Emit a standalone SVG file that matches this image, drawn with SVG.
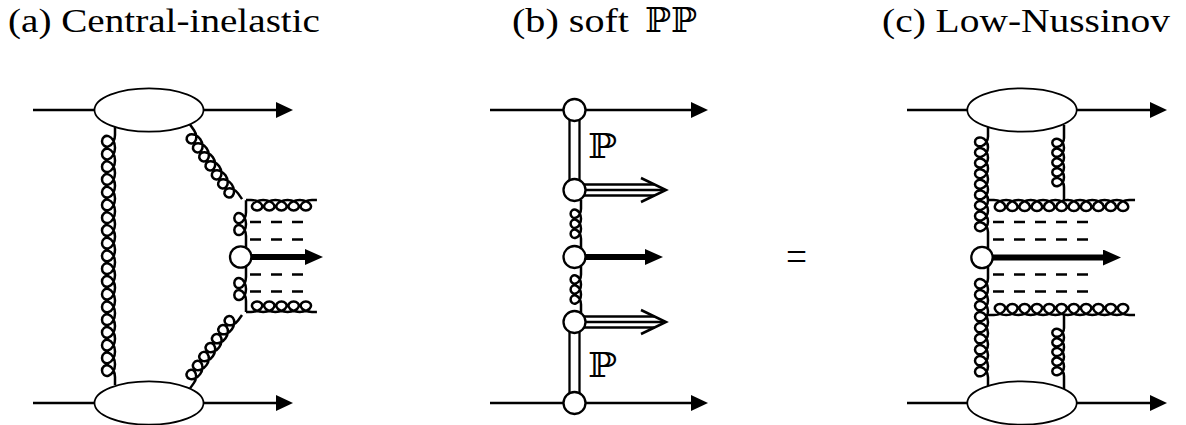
<svg xmlns="http://www.w3.org/2000/svg" width="1186" height="425" viewBox="0 0 1186 425">
<style>
.ln{stroke:#000;stroke-width:2.5;fill:none}
.gl{stroke:#000;stroke-width:2.5;fill:none;vector-effect:non-scaling-stroke}
.th{stroke:#000;stroke-width:6;fill:none}
.ds{stroke:#000;stroke-width:2.5;stroke-dasharray:11 10;fill:none}
.el{fill:#fff;stroke:#000;stroke-width:1.7}
.ci{fill:#fff;stroke:#000;stroke-width:2.3}
.pm{fill:#fff;stroke:#000;stroke-width:2.3}
.tt{font-family:"Liberation Serif","Times New Roman",serif;font-size:34px;fill:#000}
.bb{font-family:"DejaVu Serif","DejaVu Sans",serif}
</style>
<defs>
<marker id="ah" viewBox="0 0 17 16" refX="1" refY="8" markerWidth="17" markerHeight="16" markerUnits="userSpaceOnUse" orient="auto"><path d="M0,0 L17,8 L0,16 Z" fill="#000"/></marker>
<marker id="ahT" viewBox="0 0 18 16" refX="1" refY="8" markerWidth="18" markerHeight="16" markerUnits="userSpaceOnUse" orient="auto"><path d="M0,0 L18,8 L0,16 Z" fill="#000"/></marker>
</defs>
<rect width="1186" height="425" fill="#fff"/>

<g id="titles">
<text id="title-a" class="tt" x="8" y="32" textLength="312" lengthAdjust="spacingAndGlyphs">(a) Central-inelastic</text>
<text id="title-b" class="tt" y="32"><tspan x="512" textLength="117" lengthAdjust="spacingAndGlyphs">(b) soft</tspan><tspan class="bb" x="645" textLength="52" lengthAdjust="spacingAndGlyphs">ℙℙ</tspan></text>
<text id="title-c" class="tt" x="882" y="32" textLength="288" lengthAdjust="spacingAndGlyphs">(c) Low-Nussinov</text>
</g>

<g id="connectors">
<!-- panel a -->
<line class="ln" x1="33" y1="110" x2="277" y2="110" marker-end="url(#ah)"/>
<line class="ln" x1="33" y1="403" x2="277" y2="403" marker-end="url(#ah)"/>
<path class="gl" transform="translate(115,385) rotate(-90) scale(1.014,1)" d="M0,0 h7.9 c5.576,0 10.295,-2.91 11.342,-6.5 c1.047,-3.59 -1.577,-6.5 -5.059,-6.5 c-3.482,0 -6.105,2.91 -5.058,6.5 c1.047,3.59 5.765,6.5 11.341,6.5 c5.576,0 10.295,-2.91 11.342,-6.5 c1.047,-3.59 -1.577,-6.5 -5.059,-6.5 c-3.482,0 -6.105,2.91 -5.058,6.5 c1.047,3.59 5.765,6.5 11.341,6.5 c5.576,0 10.295,-2.91 11.342,-6.5 c1.047,-3.59 -1.577,-6.5 -5.059,-6.5 c-3.482,0 -6.105,2.91 -5.058,6.5 c1.047,3.59 5.765,6.5 11.341,6.5 c5.576,0 10.295,-2.91 11.342,-6.5 c1.047,-3.59 -1.577,-6.5 -5.059,-6.5 c-3.482,0 -6.105,2.91 -5.058,6.5 c1.047,3.59 5.765,6.5 11.341,6.5 c5.576,0 10.295,-2.91 11.342,-6.5 c1.047,-3.59 -1.577,-6.5 -5.059,-6.5 c-3.482,0 -6.105,2.91 -5.058,6.5 c1.047,3.59 5.765,6.5 11.341,6.5 c5.576,0 10.295,-2.91 11.342,-6.5 c1.047,-3.59 -1.577,-6.5 -5.059,-6.5 c-3.482,0 -6.105,2.91 -5.058,6.5 c1.047,3.59 5.765,6.5 11.341,6.5 c5.576,0 10.295,-2.91 11.342,-6.5 c1.047,-3.59 -1.577,-6.5 -5.059,-6.5 c-3.482,0 -6.105,2.91 -5.058,6.5 c1.047,3.59 5.765,6.5 11.341,6.5 c5.576,0 10.295,-2.91 11.342,-6.5 c1.047,-3.59 -1.577,-6.5 -5.059,-6.5 c-3.482,0 -6.105,2.91 -5.058,6.5 c1.047,3.59 5.765,6.5 11.341,6.5 c5.576,0 10.295,-2.91 11.342,-6.5 c1.047,-3.59 -1.577,-6.5 -5.059,-6.5 c-3.482,0 -6.105,2.91 -5.058,6.5 c1.047,3.59 5.765,6.5 11.341,6.5 c5.576,0 10.295,-2.91 11.342,-6.5 c1.047,-3.59 -1.577,-6.5 -5.059,-6.5 c-3.482,0 -6.105,2.91 -5.058,6.5 c1.047,3.59 5.765,6.5 11.341,6.5 c5.576,0 10.295,-2.91 11.342,-6.5 c1.047,-3.59 -1.577,-6.5 -5.059,-6.5 c-3.482,0 -6.105,2.91 -5.058,6.5 c1.047,3.59 5.765,6.5 11.341,6.5 c5.576,0 10.295,-2.91 11.342,-6.5 c1.047,-3.59 -1.577,-6.5 -5.059,-6.5 c-3.482,0 -6.105,2.91 -5.058,6.5 c1.047,3.59 5.765,6.5 11.341,6.5 c5.576,0 10.295,-2.91 11.342,-6.5 c1.047,-3.59 -1.577,-6.5 -5.059,-6.5 c-3.482,0 -6.105,2.91 -5.058,6.5 c1.047,3.59 5.765,6.5 11.341,6.5 c5.576,0 10.295,-2.91 11.342,-6.5 c1.047,-3.59 -1.577,-6.5 -5.059,-6.5 c-3.482,0 -6.105,2.91 -5.058,6.5 c1.047,3.59 5.765,6.5 11.341,6.5 c5.576,0 10.295,-2.91 11.342,-6.5 c1.047,-3.59 -1.577,-6.5 -5.059,-6.5 c-3.482,0 -6.105,2.91 -5.058,6.5 c1.047,3.59 5.765,6.5 11.341,6.5 c5.576,0 10.295,-2.91 11.342,-6.5 c1.047,-3.59 -1.577,-6.5 -5.059,-6.5 c-3.482,0 -6.105,2.91 -5.058,6.5 c1.047,3.59 5.765,6.5 11.341,6.5 c5.576,0 10.295,-2.91 11.342,-6.5 c1.047,-3.59 -1.577,-6.5 -5.059,-6.5 c-3.482,0 -6.105,2.91 -5.058,6.5 c1.047,3.59 5.765,6.5 11.341,6.5 c5.576,0 10.295,-2.91 11.342,-6.5 c1.047,-3.59 -1.577,-6.5 -5.059,-6.5 c-3.482,0 -6.105,2.91 -5.058,6.5 c1.047,3.59 5.765,6.5 11.341,6.5 c5.576,0 10.295,-2.91 11.342,-6.5 c1.047,-3.59 -1.577,-6.5 -5.059,-6.5 c-3.482,0 -6.105,2.91 -5.058,6.5 c1.047,3.59 5.765,6.5 11.341,6.5 h7.9"/>
<path class="gl" transform="translate(190,124.5) rotate(55.1) scale(0.875,-0.9)" d="M0,0 h8 c5.576,0 10.295,-2.91 11.342,-6.5 c1.047,-3.59 -1.577,-6.5 -5.059,-6.5 c-3.482,0 -6.105,2.91 -5.058,6.5 c1.047,3.59 5.765,6.5 11.341,6.5 c5.576,0 10.295,-2.91 11.342,-6.5 c1.047,-3.59 -1.577,-6.5 -5.059,-6.5 c-3.482,0 -6.105,2.91 -5.058,6.5 c1.047,3.59 5.765,6.5 11.341,6.5 c5.576,0 10.295,-2.91 11.342,-6.5 c1.047,-3.59 -1.577,-6.5 -5.059,-6.5 c-3.482,0 -6.105,2.91 -5.058,6.5 c1.047,3.59 5.765,6.5 11.341,6.5 c5.576,0 10.295,-2.91 11.342,-6.5 c1.047,-3.59 -1.577,-6.5 -5.059,-6.5 c-3.482,0 -6.105,2.91 -5.058,6.5 c1.047,3.59 5.765,6.5 11.341,6.5 c5.576,0 10.295,-2.91 11.342,-6.5 c1.047,-3.59 -1.577,-6.5 -5.059,-6.5 c-3.482,0 -6.105,2.91 -5.058,6.5 c1.047,3.59 5.765,6.5 11.341,6.5 c5.576,0 10.295,-2.91 11.342,-6.5 c1.047,-3.59 -1.577,-6.5 -5.059,-6.5 c-3.482,0 -6.105,2.91 -5.058,6.5 c1.047,3.59 5.765,6.5 11.341,6.5 c5.576,0 10.295,-2.91 11.342,-6.5 c1.047,-3.59 -1.577,-6.5 -5.059,-6.5 c-3.482,0 -6.105,2.91 -5.058,6.5 c1.047,3.59 5.765,6.5 11.341,6.5 h8"/>
<path class="gl" transform="translate(242,315) rotate(125.3) scale(0.875,-0.9)" d="M0,0 h7.4 c5.576,0 10.295,-2.91 11.342,-6.5 c1.047,-3.59 -1.577,-6.5 -5.059,-6.5 c-3.482,0 -6.105,2.91 -5.058,6.5 c1.047,3.59 5.765,6.5 11.341,6.5 c5.576,0 10.295,-2.91 11.342,-6.5 c1.047,-3.59 -1.577,-6.5 -5.059,-6.5 c-3.482,0 -6.105,2.91 -5.058,6.5 c1.047,3.59 5.765,6.5 11.341,6.5 c5.576,0 10.295,-2.91 11.342,-6.5 c1.047,-3.59 -1.577,-6.5 -5.059,-6.5 c-3.482,0 -6.105,2.91 -5.058,6.5 c1.047,3.59 5.765,6.5 11.341,6.5 c5.576,0 10.295,-2.91 11.342,-6.5 c1.047,-3.59 -1.577,-6.5 -5.059,-6.5 c-3.482,0 -6.105,2.91 -5.058,6.5 c1.047,3.59 5.765,6.5 11.341,6.5 c5.576,0 10.295,-2.91 11.342,-6.5 c1.047,-3.59 -1.577,-6.5 -5.059,-6.5 c-3.482,0 -6.105,2.91 -5.058,6.5 c1.047,3.59 5.765,6.5 11.341,6.5 c5.576,0 10.295,-2.91 11.342,-6.5 c1.047,-3.59 -1.577,-6.5 -5.059,-6.5 c-3.482,0 -6.105,2.91 -5.058,6.5 c1.047,3.59 5.765,6.5 11.341,6.5 c5.576,0 10.295,-2.91 11.342,-6.5 c1.047,-3.59 -1.577,-6.5 -5.059,-6.5 c-3.482,0 -6.105,2.91 -5.058,6.5 c1.047,3.59 5.765,6.5 11.341,6.5 h7.4"/>
<path class="gl" transform="translate(246,200) scale(0.97,-0.8)" d="M0,0 h5.15 c5.576,0 10.295,-2.91 11.342,-6.5 c1.047,-3.59 -1.577,-6.5 -5.059,-6.5 c-3.482,0 -6.105,2.91 -5.058,6.5 c1.047,3.59 5.765,6.5 11.341,6.5 c5.576,0 10.295,-2.91 11.342,-6.5 c1.047,-3.59 -1.577,-6.5 -5.059,-6.5 c-3.482,0 -6.105,2.91 -5.058,6.5 c1.047,3.59 5.765,6.5 11.341,6.5 c5.576,0 10.295,-2.91 11.342,-6.5 c1.047,-3.59 -1.577,-6.5 -5.059,-6.5 c-3.482,0 -6.105,2.91 -5.058,6.5 c1.047,3.59 5.765,6.5 11.341,6.5 c5.576,0 10.295,-2.91 11.342,-6.5 c1.047,-3.59 -1.577,-6.5 -5.059,-6.5 c-3.482,0 -6.105,2.91 -5.058,6.5 c1.047,3.59 5.765,6.5 11.341,6.5 c5.576,0 10.295,-2.91 11.342,-6.5 c1.047,-3.59 -1.577,-6.5 -5.059,-6.5 c-3.482,0 -6.105,2.91 -5.058,6.5 c1.047,3.59 5.765,6.5 11.341,6.5 h5.15"/>
<path class="gl" transform="translate(246,312) scale(0.97,0.8)" d="M0,0 h5.15 c5.576,0 10.295,-2.91 11.342,-6.5 c1.047,-3.59 -1.577,-6.5 -5.059,-6.5 c-3.482,0 -6.105,2.91 -5.058,6.5 c1.047,3.59 5.765,6.5 11.341,6.5 c5.576,0 10.295,-2.91 11.342,-6.5 c1.047,-3.59 -1.577,-6.5 -5.059,-6.5 c-3.482,0 -6.105,2.91 -5.058,6.5 c1.047,3.59 5.765,6.5 11.341,6.5 c5.576,0 10.295,-2.91 11.342,-6.5 c1.047,-3.59 -1.577,-6.5 -5.059,-6.5 c-3.482,0 -6.105,2.91 -5.058,6.5 c1.047,3.59 5.765,6.5 11.341,6.5 c5.576,0 10.295,-2.91 11.342,-6.5 c1.047,-3.59 -1.577,-6.5 -5.059,-6.5 c-3.482,0 -6.105,2.91 -5.058,6.5 c1.047,3.59 5.765,6.5 11.341,6.5 c5.576,0 10.295,-2.91 11.342,-6.5 c1.047,-3.59 -1.577,-6.5 -5.059,-6.5 c-3.482,0 -6.105,2.91 -5.058,6.5 c1.047,3.59 5.765,6.5 11.341,6.5 h5.15"/>
<path class="gl" transform="translate(246,248) rotate(-90) scale(0.95,0.9)" d="M0,0 h12.6 c5.576,0 10.295,-2.91 11.342,-6.5 c1.047,-3.59 -1.577,-6.5 -5.059,-6.5 c-3.482,0 -6.105,2.91 -5.058,6.5 c1.047,3.59 5.765,6.5 11.341,6.5 c5.576,0 10.295,-2.91 11.342,-6.5 c1.047,-3.59 -1.577,-6.5 -5.059,-6.5 c-3.482,0 -6.105,2.91 -5.058,6.5 c1.047,3.59 5.765,6.5 11.341,6.5 h12.6"/>
<path class="gl" transform="translate(246,312) rotate(-90) scale(0.95,0.9)" d="M0,0 h11.6 c5.576,0 10.295,-2.91 11.342,-6.5 c1.047,-3.59 -1.577,-6.5 -5.059,-6.5 c-3.482,0 -6.105,2.91 -5.058,6.5 c1.047,3.59 5.765,6.5 11.341,6.5 c5.576,0 10.295,-2.91 11.342,-6.5 c1.047,-3.59 -1.577,-6.5 -5.059,-6.5 c-3.482,0 -6.105,2.91 -5.058,6.5 c1.047,3.59 5.765,6.5 11.341,6.5 h11.6"/>
<line class="ds" x1="250" y1="222" x2="303" y2="222"/>
<line class="ds" x1="250" y1="239.5" x2="303" y2="239.5"/>
<line class="ds" x1="250" y1="274.5" x2="303" y2="274.5"/>
<line class="ds" x1="250" y1="291.5" x2="303" y2="291.5"/>
<line class="th" x1="245" y1="257" x2="306" y2="257" marker-end="url(#ahT)"/>

<!-- panel b -->
<line class="ln" x1="490" y1="110" x2="692" y2="110" marker-end="url(#ah)"/>
<line class="ln" x1="490" y1="403" x2="692" y2="403" marker-end="url(#ah)"/>
<rect class="pm" x="569.5" y="110" width="10" height="80"/>
<rect class="pm" x="569.5" y="322" width="10" height="81"/>
<path class="gl" transform="translate(581,248) rotate(-90) scale(0.796,0.8)" d="M0,0 h11.6 c5.576,0 10.295,-2.91 11.342,-6.5 c1.047,-3.59 -1.577,-6.5 -5.059,-6.5 c-3.482,0 -6.105,2.91 -5.058,6.5 c1.047,3.59 5.765,6.5 11.341,6.5 c5.576,0 10.295,-2.91 11.342,-6.5 c1.047,-3.59 -1.577,-6.5 -5.059,-6.5 c-3.482,0 -6.105,2.91 -5.058,6.5 c1.047,3.59 5.765,6.5 11.341,6.5 c5.576,0 10.295,-2.91 11.342,-6.5 c1.047,-3.59 -1.577,-6.5 -5.059,-6.5 c-3.482,0 -6.105,2.91 -5.058,6.5 c1.047,3.59 5.765,6.5 11.341,6.5 h11.6"/>
<path class="gl" transform="translate(581,313) rotate(-90) scale(0.796,0.8)" d="M0,0 h10.7 c5.576,0 10.295,-2.91 11.342,-6.5 c1.047,-3.59 -1.577,-6.5 -5.059,-6.5 c-3.482,0 -6.105,2.91 -5.058,6.5 c1.047,3.59 5.765,6.5 11.341,6.5 c5.576,0 10.295,-2.91 11.342,-6.5 c1.047,-3.59 -1.577,-6.5 -5.059,-6.5 c-3.482,0 -6.105,2.91 -5.058,6.5 c1.047,3.59 5.765,6.5 11.341,6.5 c5.576,0 10.295,-2.91 11.342,-6.5 c1.047,-3.59 -1.577,-6.5 -5.059,-6.5 c-3.482,0 -6.105,2.91 -5.058,6.5 c1.047,3.59 5.765,6.5 11.341,6.5 h10.7"/>
<g id="dbl-arrow-1">
<line class="ln" x1="582" y1="184.5" x2="654.5" y2="184.5" stroke-width="2.4"/>
<line class="ln" x1="582" y1="190" x2="663" y2="190" stroke-width="1.8"/>
<line class="ln" x1="582" y1="195.5" x2="654.5" y2="195.5" stroke-width="2.4"/>
<polyline class="ln" points="641,178 666,190 641,202" stroke-width="4" stroke-linejoin="miter"/>
</g>
<g id="dbl-arrow-2">
<line class="ln" x1="582" y1="316.5" x2="654.5" y2="316.5" stroke-width="2.4"/>
<line class="ln" x1="582" y1="322" x2="663" y2="322" stroke-width="1.8"/>
<line class="ln" x1="582" y1="327.5" x2="654.5" y2="327.5" stroke-width="2.4"/>
<polyline class="ln" points="641,310 666,322 641,334" stroke-width="4" stroke-linejoin="miter"/>
</g>
<line class="th" x1="580" y1="257" x2="646" y2="257" marker-end="url(#ahT)"/>

<!-- panel c -->
<line class="ln" x1="907" y1="110" x2="1151" y2="110" marker-end="url(#ah)"/>
<line class="ln" x1="907" y1="403" x2="1151" y2="403" marker-end="url(#ah)"/>
<path class="gl" transform="translate(988,248.6) rotate(-90) scale(0.8435,1)" d="M0,0 h19.7 c5.576,0 10.295,-2.91 11.342,-6.5 c1.047,-3.59 -1.577,-6.5 -5.059,-6.5 c-3.482,0 -6.105,2.91 -5.058,6.5 c1.047,3.59 5.765,6.5 11.341,6.5 c5.576,0 10.295,-2.91 11.342,-6.5 c1.047,-3.59 -1.577,-6.5 -5.059,-6.5 c-3.482,0 -6.105,2.91 -5.058,6.5 c1.047,3.59 5.765,6.5 11.341,6.5 c5.576,0 10.295,-2.91 11.342,-6.5 c1.047,-3.59 -1.577,-6.5 -5.059,-6.5 c-3.482,0 -6.105,2.91 -5.058,6.5 c1.047,3.59 5.765,6.5 11.341,6.5 c5.576,0 10.295,-2.91 11.342,-6.5 c1.047,-3.59 -1.577,-6.5 -5.059,-6.5 c-3.482,0 -6.105,2.91 -5.058,6.5 c1.047,3.59 5.765,6.5 11.341,6.5 c5.576,0 10.295,-2.91 11.342,-6.5 c1.047,-3.59 -1.577,-6.5 -5.059,-6.5 c-3.482,0 -6.105,2.91 -5.058,6.5 c1.047,3.59 5.765,6.5 11.341,6.5 c5.576,0 10.295,-2.91 11.342,-6.5 c1.047,-3.59 -1.577,-6.5 -5.059,-6.5 c-3.482,0 -6.105,2.91 -5.058,6.5 c1.047,3.59 5.765,6.5 11.341,6.5 c5.576,0 10.295,-2.91 11.342,-6.5 c1.047,-3.59 -1.577,-6.5 -5.059,-6.5 c-3.482,0 -6.105,2.91 -5.058,6.5 c1.047,3.59 5.765,6.5 11.341,6.5 c5.576,0 10.295,-2.91 11.342,-6.5 c1.047,-3.59 -1.577,-6.5 -5.059,-6.5 c-3.482,0 -6.105,2.91 -5.058,6.5 c1.047,3.59 5.765,6.5 11.341,6.5 c5.576,0 10.295,-2.91 11.342,-6.5 c1.047,-3.59 -1.577,-6.5 -5.059,-6.5 c-3.482,0 -6.105,2.91 -5.058,6.5 c1.047,3.59 5.765,6.5 11.341,6.5 h11.4"/>
<path class="gl" transform="translate(988,386) rotate(-90) scale(0.875,1)" d="M0,0 h10.06 c5.576,0 10.295,-2.91 11.342,-6.5 c1.047,-3.59 -1.577,-6.5 -5.059,-6.5 c-3.482,0 -6.105,2.91 -5.058,6.5 c1.047,3.59 5.765,6.5 11.341,6.5 c5.576,0 10.295,-2.91 11.342,-6.5 c1.047,-3.59 -1.577,-6.5 -5.059,-6.5 c-3.482,0 -6.105,2.91 -5.058,6.5 c1.047,3.59 5.765,6.5 11.341,6.5 c5.576,0 10.295,-2.91 11.342,-6.5 c1.047,-3.59 -1.577,-6.5 -5.059,-6.5 c-3.482,0 -6.105,2.91 -5.058,6.5 c1.047,3.59 5.765,6.5 11.341,6.5 c5.576,0 10.295,-2.91 11.342,-6.5 c1.047,-3.59 -1.577,-6.5 -5.059,-6.5 c-3.482,0 -6.105,2.91 -5.058,6.5 c1.047,3.59 5.765,6.5 11.341,6.5 c5.576,0 10.295,-2.91 11.342,-6.5 c1.047,-3.59 -1.577,-6.5 -5.059,-6.5 c-3.482,0 -6.105,2.91 -5.058,6.5 c1.047,3.59 5.765,6.5 11.341,6.5 c5.576,0 10.295,-2.91 11.342,-6.5 c1.047,-3.59 -1.577,-6.5 -5.059,-6.5 c-3.482,0 -6.105,2.91 -5.058,6.5 c1.047,3.59 5.765,6.5 11.341,6.5 c5.576,0 10.295,-2.91 11.342,-6.5 c1.047,-3.59 -1.577,-6.5 -5.059,-6.5 c-3.482,0 -6.105,2.91 -5.058,6.5 c1.047,3.59 5.765,6.5 11.341,6.5 c5.576,0 10.295,-2.91 11.342,-6.5 c1.047,-3.59 -1.577,-6.5 -5.059,-6.5 c-3.482,0 -6.105,2.91 -5.058,6.5 c1.047,3.59 5.765,6.5 11.341,6.5 c5.576,0 10.295,-2.91 11.342,-6.5 c1.047,-3.59 -1.577,-6.5 -5.059,-6.5 c-3.482,0 -6.105,2.91 -5.058,6.5 c1.047,3.59 5.765,6.5 11.341,6.5 h13.49"/>
<path class="gl" transform="translate(1064,200) rotate(-90) scale(0.78,0.9)" d="M0,0 h16.7 c5.576,0 10.295,-2.91 11.342,-6.5 c1.047,-3.59 -1.577,-6.5 -5.059,-6.5 c-3.482,0 -6.105,2.91 -5.058,6.5 c1.047,3.59 5.765,6.5 11.341,6.5 c5.576,0 10.295,-2.91 11.342,-6.5 c1.047,-3.59 -1.577,-6.5 -5.059,-6.5 c-3.482,0 -6.105,2.91 -5.058,6.5 c1.047,3.59 5.765,6.5 11.341,6.5 c5.576,0 10.295,-2.91 11.342,-6.5 c1.047,-3.59 -1.577,-6.5 -5.059,-6.5 c-3.482,0 -6.105,2.91 -5.058,6.5 c1.047,3.59 5.765,6.5 11.341,6.5 c5.576,0 10.295,-2.91 11.342,-6.5 c1.047,-3.59 -1.577,-6.5 -5.059,-6.5 c-3.482,0 -6.105,2.91 -5.058,6.5 c1.047,3.59 5.765,6.5 11.341,6.5 c5.576,0 10.295,-2.91 11.342,-6.5 c1.047,-3.59 -1.577,-6.5 -5.059,-6.5 c-3.482,0 -6.105,2.91 -5.058,6.5 c1.047,3.59 5.765,6.5 11.341,6.5 h16.7"/>
<path class="gl" transform="translate(1064,389) rotate(-90) scale(0.764,0.9)" d="M0,0 h17 c5.576,0 10.295,-2.91 11.342,-6.5 c1.047,-3.59 -1.577,-6.5 -5.059,-6.5 c-3.482,0 -6.105,2.91 -5.058,6.5 c1.047,3.59 5.765,6.5 11.341,6.5 c5.576,0 10.295,-2.91 11.342,-6.5 c1.047,-3.59 -1.577,-6.5 -5.059,-6.5 c-3.482,0 -6.105,2.91 -5.058,6.5 c1.047,3.59 5.765,6.5 11.341,6.5 c5.576,0 10.295,-2.91 11.342,-6.5 c1.047,-3.59 -1.577,-6.5 -5.059,-6.5 c-3.482,0 -6.105,2.91 -5.058,6.5 c1.047,3.59 5.765,6.5 11.341,6.5 c5.576,0 10.295,-2.91 11.342,-6.5 c1.047,-3.59 -1.577,-6.5 -5.059,-6.5 c-3.482,0 -6.105,2.91 -5.058,6.5 c1.047,3.59 5.765,6.5 11.341,6.5 c5.576,0 10.295,-2.91 11.342,-6.5 c1.047,-3.59 -1.577,-6.5 -5.059,-6.5 c-3.482,0 -6.105,2.91 -5.058,6.5 c1.047,3.59 5.765,6.5 11.341,6.5 h17"/>
<path class="gl" transform="translate(988,200) scale(0.979,-0.85)" d="M0,0 h5.98 c5.576,0 10.295,-2.91 11.342,-6.5 c1.047,-3.59 -1.577,-6.5 -5.059,-6.5 c-3.482,0 -6.105,2.91 -5.058,6.5 c1.047,3.59 5.765,6.5 11.341,6.5 c5.576,0 10.295,-2.91 11.342,-6.5 c1.047,-3.59 -1.577,-6.5 -5.059,-6.5 c-3.482,0 -6.105,2.91 -5.058,6.5 c1.047,3.59 5.765,6.5 11.341,6.5 c5.576,0 10.295,-2.91 11.342,-6.5 c1.047,-3.59 -1.577,-6.5 -5.059,-6.5 c-3.482,0 -6.105,2.91 -5.058,6.5 c1.047,3.59 5.765,6.5 11.341,6.5 c5.576,0 10.295,-2.91 11.342,-6.5 c1.047,-3.59 -1.577,-6.5 -5.059,-6.5 c-3.482,0 -6.105,2.91 -5.058,6.5 c1.047,3.59 5.765,6.5 11.341,6.5 c5.576,0 10.295,-2.91 11.342,-6.5 c1.047,-3.59 -1.577,-6.5 -5.059,-6.5 c-3.482,0 -6.105,2.91 -5.058,6.5 c1.047,3.59 5.765,6.5 11.341,6.5 c5.576,0 10.295,-2.91 11.342,-6.5 c1.047,-3.59 -1.577,-6.5 -5.059,-6.5 c-3.482,0 -6.105,2.91 -5.058,6.5 c1.047,3.59 5.765,6.5 11.341,6.5 c5.576,0 10.295,-2.91 11.342,-6.5 c1.047,-3.59 -1.577,-6.5 -5.059,-6.5 c-3.482,0 -6.105,2.91 -5.058,6.5 c1.047,3.59 5.765,6.5 11.341,6.5 c5.576,0 10.295,-2.91 11.342,-6.5 c1.047,-3.59 -1.577,-6.5 -5.059,-6.5 c-3.482,0 -6.105,2.91 -5.058,6.5 c1.047,3.59 5.765,6.5 11.341,6.5 c5.576,0 10.295,-2.91 11.342,-6.5 c1.047,-3.59 -1.577,-6.5 -5.059,-6.5 c-3.482,0 -6.105,2.91 -5.058,6.5 c1.047,3.59 5.765,6.5 11.341,6.5 c5.576,0 10.295,-2.91 11.342,-6.5 c1.047,-3.59 -1.577,-6.5 -5.059,-6.5 c-3.482,0 -6.105,2.91 -5.058,6.5 c1.047,3.59 5.765,6.5 11.341,6.5 c5.576,0 10.295,-2.91 11.342,-6.5 c1.047,-3.59 -1.577,-6.5 -5.059,-6.5 c-3.482,0 -6.105,2.91 -5.058,6.5 c1.047,3.59 5.765,6.5 11.341,6.5 h5.98"/>
<path class="gl" transform="translate(988,315) scale(0.979,0.85)" d="M0,0 h5.98 c5.576,0 10.295,-2.91 11.342,-6.5 c1.047,-3.59 -1.577,-6.5 -5.059,-6.5 c-3.482,0 -6.105,2.91 -5.058,6.5 c1.047,3.59 5.765,6.5 11.341,6.5 c5.576,0 10.295,-2.91 11.342,-6.5 c1.047,-3.59 -1.577,-6.5 -5.059,-6.5 c-3.482,0 -6.105,2.91 -5.058,6.5 c1.047,3.59 5.765,6.5 11.341,6.5 c5.576,0 10.295,-2.91 11.342,-6.5 c1.047,-3.59 -1.577,-6.5 -5.059,-6.5 c-3.482,0 -6.105,2.91 -5.058,6.5 c1.047,3.59 5.765,6.5 11.341,6.5 c5.576,0 10.295,-2.91 11.342,-6.5 c1.047,-3.59 -1.577,-6.5 -5.059,-6.5 c-3.482,0 -6.105,2.91 -5.058,6.5 c1.047,3.59 5.765,6.5 11.341,6.5 c5.576,0 10.295,-2.91 11.342,-6.5 c1.047,-3.59 -1.577,-6.5 -5.059,-6.5 c-3.482,0 -6.105,2.91 -5.058,6.5 c1.047,3.59 5.765,6.5 11.341,6.5 c5.576,0 10.295,-2.91 11.342,-6.5 c1.047,-3.59 -1.577,-6.5 -5.059,-6.5 c-3.482,0 -6.105,2.91 -5.058,6.5 c1.047,3.59 5.765,6.5 11.341,6.5 c5.576,0 10.295,-2.91 11.342,-6.5 c1.047,-3.59 -1.577,-6.5 -5.059,-6.5 c-3.482,0 -6.105,2.91 -5.058,6.5 c1.047,3.59 5.765,6.5 11.341,6.5 c5.576,0 10.295,-2.91 11.342,-6.5 c1.047,-3.59 -1.577,-6.5 -5.059,-6.5 c-3.482,0 -6.105,2.91 -5.058,6.5 c1.047,3.59 5.765,6.5 11.341,6.5 c5.576,0 10.295,-2.91 11.342,-6.5 c1.047,-3.59 -1.577,-6.5 -5.059,-6.5 c-3.482,0 -6.105,2.91 -5.058,6.5 c1.047,3.59 5.765,6.5 11.341,6.5 c5.576,0 10.295,-2.91 11.342,-6.5 c1.047,-3.59 -1.577,-6.5 -5.059,-6.5 c-3.482,0 -6.105,2.91 -5.058,6.5 c1.047,3.59 5.765,6.5 11.341,6.5 c5.576,0 10.295,-2.91 11.342,-6.5 c1.047,-3.59 -1.577,-6.5 -5.059,-6.5 c-3.482,0 -6.105,2.91 -5.058,6.5 c1.047,3.59 5.765,6.5 11.341,6.5 h5.98"/>
<line class="ds" x1="993" y1="222" x2="1088" y2="222"/>
<line class="ds" x1="993" y1="239.5" x2="1088" y2="239.5"/>
<line class="ds" x1="993" y1="274.5" x2="1088" y2="274.5"/>
<line class="ds" x1="993" y1="291.5" x2="1088" y2="291.5"/>
<line class="th" x1="987" y1="257.5" x2="1104" y2="257.5" marker-end="url(#ahT)"/>
</g>

<g id="node-a-top"><ellipse class="el" cx="149" cy="110" rx="54.5" ry="21.7"/></g>
<g id="node-a-bottom"><ellipse class="el" cx="149" cy="403" rx="54.5" ry="21.7"/></g>
<g id="node-a-vertex"><circle class="ci" cx="240.7" cy="257" r="10.7"/></g>

<g id="node-b-v1"><circle class="ci" cx="574.5" cy="110" r="11"/></g>
<g id="node-b-v2"><circle class="ci" cx="574.5" cy="190" r="11"/></g>
<g id="node-b-v3"><circle class="ci" cx="574.5" cy="257" r="11"/></g>
<g id="node-b-v4"><circle class="ci" cx="574.5" cy="322" r="11"/></g>
<g id="node-b-v5"><circle class="ci" cx="574.5" cy="403" r="11"/></g>
<g id="label-b-p1"><text class="tt bb" x="588" y="158" font-size="33" textLength="29" lengthAdjust="spacingAndGlyphs">ℙ</text></g>
<g id="label-b-p2"><text class="tt bb" x="588" y="377" font-size="33" textLength="29" lengthAdjust="spacingAndGlyphs">ℙ</text></g>

<g id="equals"><text class="tt" x="786" y="270" style="font-size:42px" textLength="21" lengthAdjust="spacingAndGlyphs">=</text></g>

<g id="node-c-top"><ellipse class="el" cx="1022" cy="110" rx="54.7" ry="21.7"/></g>
<g id="node-c-bottom"><ellipse class="el" cx="1022" cy="403" rx="54.7" ry="21.7"/></g>
<g id="node-c-vertex"><circle class="ci" cx="982" cy="257.5" r="10.7"/></g>
</svg>
